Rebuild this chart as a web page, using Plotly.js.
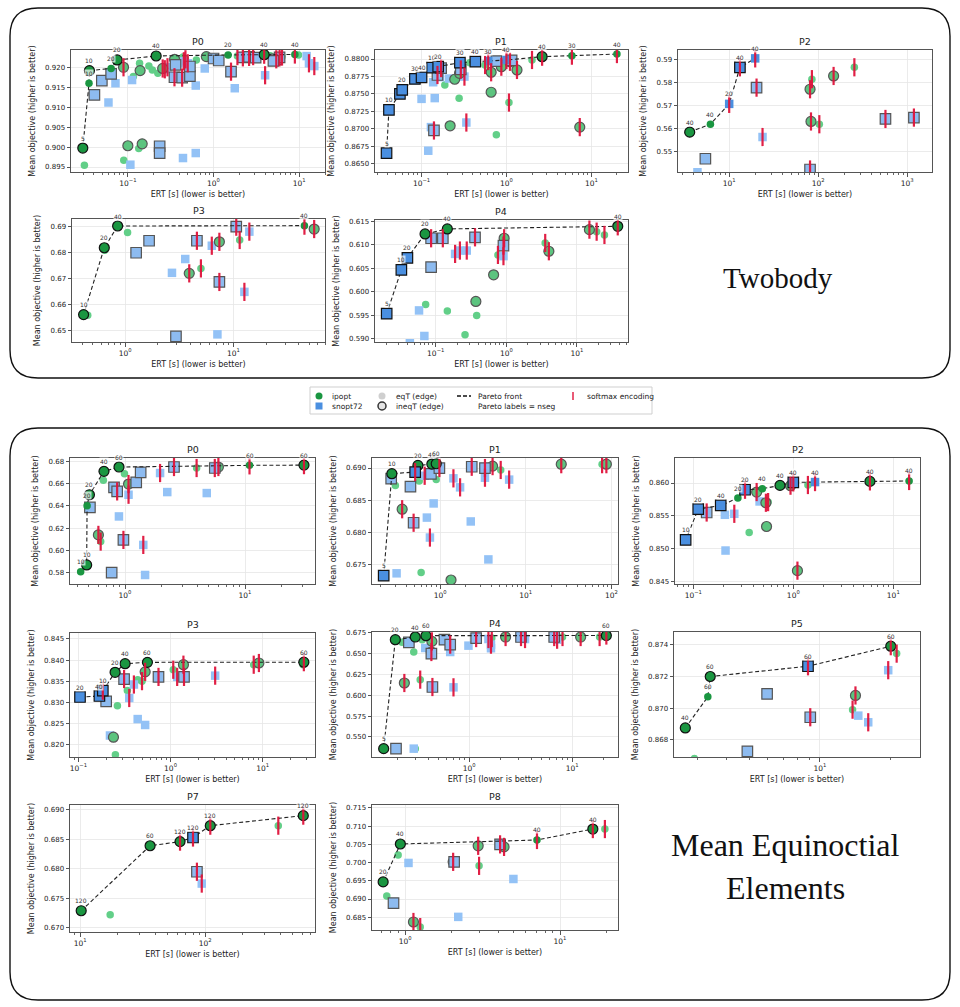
<!DOCTYPE html>
<html><head><meta charset="utf-8">
<script src="https://cdn.plot.ly/plotly-3.0.1.min.js"></script>
<style>html,body{margin:0;padding:0;background:#fff}#chart{width:960px;height:1007px}</style>
</head><body><div id="chart"></div>
<script>
// ---- DATA (first nseg.length points of each panel are the Pareto points) ----
// kind: i=ipopt s=snopt72, e=eqT(edge) q=ineqT(edge), trailing r = softmax encoding
const TB_P0_ert = [0.0298,0.0352,0.0356,0.0638,0.075,0.214,1.48,3.9,8.9, 0.0311,0.0407,0.0497,0.0594,0.0638,0.0717,0.089,0.0896,0.1,0.107,0.112,0.116,0.134,0.137,0.139,0.147,0.176,0.193,0.224,0.235,0.235,0.255,0.27,0.29,0.351,0.35,0.36,0.39,0.43,0.44,0.45,0.47,0.50,0.53,0.53,0.44,0.62,0.62,0.63,0.79,0.824,1.0,1.15,1.6,1.77,1.9,2.2,2.6,3.1,2.9,4.0,4.6,5.4,5.9,6.3,5.0,9.8,12.2,13,15];
const TB_P0_obj = [0.89975,0.9160,0.91917,0.9197,0.92183,0.92283,0.9231,0.92315,0.9232, 0.89542,0.91308,0.91667,0.91117,0.91833,0.9160,0.9200,0.89667,0.90033,0.89558,0.9168,0.9177,0.89967,0.9210,0.91917,0.9008,0.9203,0.9193,0.9185,0.9002,0.8985,0.9197,0.9195,0.9200,0.9220,0.9175,0.9206,0.9210,0.9174,0.9226,0.9215,0.9220,0.9210,0.9178,0.9202,0.89725,0.8985,0.91542,0.9218,0.9197,0.92267,0.9222,0.9217,0.9189,0.91475,0.9228,0.9225,0.9226,0.9224,0.9228,0.9180,0.9229,0.9220,0.9225,0.9227,0.9216,0.9231,0.9228,0.9210,0.9203];
const TB_P0_kind = ['iq','ie','iq','ie','iq','iq','ie','iqr','ier', 'ie','sq','sq','se','sq','se','iqr','ie','iq','se','se','ie','ie','ie','iq','iq','ie','ie','ie','sq','sq','iqr','ser','ser','iq','sqr','sq','se','sqr','ie','ser','ier','ser','sq','sq','se','se','se','ie','se','iq','sq','sq','sqr','se','ier','sqr','sqr','sq','ier','ser','ie','sqr','sqr','ier','sq','ie','se','ser','ser'];
const TB_P0_nseg = ['5','10','10','20','20','40','20','40','40'];

const TB_P1_ert = [0.0387,0.0413,0.0556,0.0592,0.0835,0.1,0.133,0.157,0.283,0.43,0.61,1.0,2.63,5.9,20, 0.12,0.129,0.14,0.1,0.143,0.137,0.154,0.164,0.17,0.188,0.217,0.21,0.277,0.246,0.28,0.29,0.32,0.337,0.37,0.56,0.66,0.66,0.76,0.87,1.1,1.07,1.33,2.0,7.3,0.76,1.15];
const TB_P1_obj = [0.86652,0.87271,0.8750,0.87557,0.87714,0.87738,0.87876,0.8789,0.87948,0.87962,0.87971,0.87986,0.88033,0.88048,0.88071, 0.86686,0.87024,0.86976,0.87429,0.8744,0.87667,0.87771,0.8774,0.8787,0.87629,0.87043,0.8772,0.87438,0.8771,0.87795,0.8785,0.87748,0.8709,0.87945,0.87914,0.8781,0.87524,0.86914,0.8789,0.8796,0.87376,0.87843,0.87986,0.87024,0.8797,0.8798];
const TB_P1_kind = ['sq','sq','sq','sq','sq','sq','sq','sq','sq','sq','ser','ser','iqr','ier','ier', 'se','se','sqr','se','se','se','sqr','se','sqr','ie','iq','se','ie','iq','iq','sqr','ser','ser','ie','ier','iqr','iq','ie','iqr','iqr','ier','iqr','ier','iqr','sq','sq'];
const TB_P1_nseg = ['5','10','','20','30','40','10','20','30','40','30','40','40','30','40'];

const TB_P2_ert = [3.6,6.15,10,13.2,19.6, 4.4,5.4,20.3,23.7,81,85,83,103,81,149,255,570,1190];
const TB_P2_obj = [0.55844,0.56193,0.5708,0.5868,0.5907, 0.5409,0.5468,0.5779,0.5563,0.5772,0.5816,0.5631,0.5619,0.5421,0.5830,0.5868,0.5642,0.5648];
const TB_P2_kind = ['iq','ie','ser','sqr','ser', 'se','sq','sqr','ser','iqr','ier','iqr','ier','sqr','iqr','ier','sqr','sqr'];
const TB_P2_nseg = ['40','40','20','40','40'];

const TB_P3_ert = [0.412,0.64,0.85,45.2, 0.45,0.645,1.05,1.26,1.66,2.7,3.58,2.94,3.9,5.0,4.59,6.3,7.4,7.4,7.1,10.6,11.4,12.6,14,55.6];
const TB_P3_obj = [0.65628,0.68192,0.69026,0.6904, 0.6560,0.6810,0.6878,0.6800,0.6846,0.6723,0.6776,0.6479,0.6721,0.6740,0.6846,0.6827,0.6842,0.6688,0.6487,0.6900,0.6849,0.6650,0.6881,0.6891];
const TB_P3_kind = ['iq','iq','iq','ier', 'ie','ie','ie','sq','sq','se','se','sq','iqr','ier','sqr','ser','iqr','sqr','se','sqr','ier','ser','ser','iqr'];
const TB_P3_nseg = ['10','20','40','40'];

const TB_P4_ert = [0.0202,0.0326,0.0397,0.0706,0.146,37.8, 0.043,0.058,0.069,0.072,0.086,0.086,0.126,0.146,0.188,0.22,0.275,0.26,0.36,0.37,0.38,0.66,0.76,0.91,0.91,0.93,3.55,4.0,15,19,24.5];
const TB_P4_obj = [0.59537,0.60469,0.60723,0.61232,0.61338,0.61394, 0.5891,0.59607,0.59064,0.59734,0.6114,0.60526,0.6114,0.59593,0.60808,0.60879,0.60879,0.59092,0.6116,0.59798,0.59501,0.60363,0.60787,0.6076,0.60985,0.6114,0.6104,0.60864,0.61323,0.6128,0.6121];
const TB_P4_kind = ['sq','sq','sq','iq','iq','iqr', 'se','se','se','ie','sqr','sq','sqr','ie','ser','ser','ser','ie','sqr','iq','ie','iq','ier','ser','sqr','iqr','ier','iqr','iqr','ier','ier'];
const TB_P4_nseg = ['5','10','20','20','40','40'];

const ME_P0_ert = [0.427,0.479,0.483,0.505,0.668,0.891,10.9,31, 0.51,0.66,0.6,0.627,0.774,0.81,0.86,0.99,0.89,0.97,1.07,1.07,1.24,1.35,1.42,1.47,1.96,2.25,2.56,3.95,4.8,5.6,6.0];
const ME_P0_obj = [0.5809,0.5869,0.6400,0.6500,0.6710,0.6749,0.6764,0.6766, 0.6386,0.6629,0.6139,0.6079,0.5800,0.6566,0.6530,0.6689,0.6305,0.6094,0.6596,0.6500,0.6611,0.6701,0.6049,0.5779,0.6695,0.6524,0.6749,0.6740,0.6515,0.6740,0.6749];
const ME_P0_kind = ['ie','iq','ie','iq','iq','iq','ier','iqr', 'sq','ie','iqr','ier','sq','sq','sqr','ie','se','sqr','iqr','ser','sq','sq','ser','se','ser','se','sqr','ier','se','sqr','iqr'];
const ME_P0_nseg = ['10','10','20','20','40','60','60','60'];

const ME_P1_ert = [0.219,0.273,0.511,0.55,0.8,0.9, 0.257,0.268,0.3,0.31,0.36,0.45,0.49,0.57,0.6,0.66,0.7,0.78,0.76,0.84,0.9,0.98,1.34,1.43,1.71,2.28,2.34,3.34,3.34,3.66,4.1,5.1,6.4,26,78,87.5];
const ME_P1_obj = [0.67328,0.68912,0.68938,0.6904,0.69062,0.69067, 0.6884,0.68834,0.6873,0.67364,0.6836,0.6871,0.6815,0.6880,0.67375,0.6888,0.6823,0.6891,0.6792,0.6845,0.6882,0.6900,0.6726,0.6884,0.6870,0.6817,0.6902,0.6900,0.6885,0.6758,0.6903,0.6897,0.6882,0.6906,0.6906,0.6906];
const ME_P1_kind = ['sq','iq','sqr','iq','iq','iq', 'ie','sq','ie','se','iqr','sq','sqr','ie','ie','ser','se','sq','ser','se','ie','sqr','iq','ser','ser','se','sqr','sqr','ser','se','iqr','ier','ser','iqr','ier','iqr'];
const ME_P1_nseg = ['5','10','','20','40','60'];

const ME_P2_ert = [0.0838,0.112,0.188,0.279,0.329,0.49,0.736,1.0,1.65,5.84,14.4, 0.136,0.207,0.21,0.257,0.362,0.43,0.46,0.532,0.56,0.54,0.938,1.1,1.4];
const ME_P2_obj = [0.85135,0.85603,0.85659,0.85771,0.85898,0.85913,0.85964,0.8601,0.86015,0.86025,0.86031, 0.85552,0.85517,0.84973,0.85532,0.85247,0.85863,0.8572,0.8570,0.8571,0.85339,0.8596,0.84667,0.8597];
const ME_P2_kind = ['sq','sq','sq','ie','sqr','ie','iq','sqr','ser','iqr','ier', 'sqr','se','se','ser','ie','iqr','se','iqr','ier','iq','iqr','iqr','ier'];
const ME_P2_nseg = ['10','20','40','20','20','40','40','40','40','40','40'];

const ME_P3_ert = [0.104,0.169,0.184,0.25,0.321,0.561,28, 0.2,0.22,0.24,0.252,0.265,0.313,0.34,0.356,0.40,0.44,0.44,0.49,0.53,0.53,0.74,1.07,1.18,1.38,1.40,3.05,8.0,9.1,27.5];
const ME_P3_obj = [0.83123,0.83147,0.83274,0.83709,0.83914,0.83946,0.8395, 0.8302,0.8221,0.8217,0.81755,0.82918,0.8355,0.8328,0.8310,0.8342,0.8353,0.8260,0.8350,0.8246,0.8372,0.8360,0.8377,0.8360,0.8389,0.8360,0.8363,0.8389,0.8393,0.8389];
const ME_P3_kind = ['sq','sq','sqr','iq','iq','iq','iqr', 'sq','se','iq','ie','ie','sqr','ie','ser','ser','ie','se','ier','se','iqr','sqr','ier','ser','iqr','sqr','ser','ier','iqr','ie'];
const ME_P3_nseg = ['20','40','10','20','40','60','60'];

const ME_P4_ert = [0.148,0.192,0.30,0.381,21.5, 0.195,0.223,0.26,0.235,0.29,0.29,0.30,0.335,0.35,0.375,0.43,0.43,0.44,0.435,0.576,0.655,0.655,0.705,0.985,1.17,1.54,1.66,1.63,1.63,2.26,3.19,3.49,6.7,7.15,8.07,12.1,18.5];
const ME_P4_obj = [0.5361,0.6662,0.6694,0.6710,0.6712, 0.5361,0.6631,0.6631,0.6145,0.6515,0.5361,0.5361,0.6185,0.6662,0.6563,0.6515,0.6495,0.6097,0.6642,0.6662,0.6603,0.6515,0.6093,0.6591,0.6682,0.6670,0.6682,0.6603,0.6560,0.6694,0.6694,0.6670,0.6694,0.6662,0.6694,0.6694,0.6694];
const ME_P4_kind = ['iq','iq','iq','iq','iqr', 'sq','ie','sq','iqr','ie','se','ie','ier','ie','se','iqr','sq','sqr','iqr','sq','sqr','se','ser','se','sqr','ser','ier','ser','se','iqr','sqr','ser','sqr','ser','ier','iqr','ier'];
const ME_P4_nseg = ['5','20','40','60','60'];

const ME_P5_ert = [2.66,3.32,3.4,8.9,20.1, 2.91,4.9,5.95,9.1,13.8,14.2,14.6,16.1,19.6,21.3];
const ME_P5_obj = [0.86874,0.87071,0.8720,0.87265,0.87392, 0.8668,0.86726,0.8709,0.86942,0.8699,0.8708,0.86952,0.8691,0.8724,0.87345];
const ME_P5_kind = ['iq','ie','iq','sqr','iqr', 'ie','sq','sq','sqr','ier','iqr','se','ser','ser','ier'];
const ME_P5_nseg = ['40','60','60','60','60'];

const ME_P7_ert = [10.2,36.3,63,80,110,610, 17.4,86,94,385];
const ME_P7_obj = [0.6729,0.6839,0.6846,0.6853,0.6873,0.6890, 0.6722,0.6795,0.6775,0.6873];
const ME_P7_kind = ['iq','iq','iqr','sqr','iqr','iqr', 'ie','sqr','ser','ier'];
const ME_P7_nseg = ['120','60','120','120','120','120'];

const ME_P8_ert = [0.72,0.93,7.1,16.3, 0.76,0.84,0.9,1.05,1.13,1.25,2.04,2.07,2.2,2.96,3.0,4.1,4.35,5.0,19.5];
const ME_P8_obj = [0.6947,0.7051,0.7062,0.7092, 0.6908,0.6889,0.7021,0.6999,0.6837,0.6823,0.7002,0.7002,0.6851,0.7046,0.6991,0.7050,0.7043,0.6955,0.7092];
const ME_P8_kind = ['iq','iq','ier','iqr', 'ie','sq','ie','se','iqr','ier','iqr','sq','se','iqr','ier','sqr','iqr','se','ier'];
const ME_P8_nseg = ['20','40','40','40'];

// ---- LAYOUT CONFIG ----
const W = 960, H = 1007;
const PANELS = [
 {t:'P0', e:TB_P0_ert, o:TB_P0_obj, k:TB_P0_kind, n:TB_P0_nseg, box:[71,50,325,172], xr:[0.0217,20], yr:[0.89375,0.92433], dy:0.005, fy:'.3f', xt:true},
 {t:'P1', e:TB_P1_ert, o:TB_P1_obj, k:TB_P1_kind, n:TB_P1_nseg, box:[375,50,628,172], xr:[0.0283,27], yr:[0.86381,0.88129], dy:0.0025, fy:'.4f', xt:true},
 {t:'P2', e:TB_P2_ert, o:TB_P2_obj, k:TB_P2_kind, n:TB_P2_nseg, box:[678,50,932,172], xr:[2.66,1900], yr:[0.5410,0.59436], dy:0.01, fy:'.2f', xt:true},
 {t:'P3', e:TB_P3_ert, o:TB_P3_obj, k:TB_P3_kind, n:TB_P3_nseg, box:[72,219,325,342], xr:[0.322,70], yr:[0.64577,0.69295], dy:0.01, fy:'.2f', xt:true},
 {t:'P4', e:TB_P4_ert, o:TB_P4_obj, k:TB_P4_kind, n:TB_P4_nseg, box:[375,220,628,342], xr:[0.0138,52.8], yr:[0.58936,0.61528], dy:0.005, fy:'.3f', xt:true},
 {t:'P0', e:ME_P0_ert, o:ME_P0_obj, k:ME_P0_kind, n:ME_P0_nseg, box:[70,458,315,584], xr:[0.348,38.3], yr:[0.5698,0.683], dy:0.02, fy:'.2f', xt:false},
 {t:'P1', e:ME_P1_ert, o:ME_P1_obj, k:ME_P1_kind, n:ME_P1_nseg, box:[372,458,618,584], xr:[0.16,119.6], yr:[0.67198,0.69156], dy:0.005, fy:'.3f', xt:false},
 {t:'P2', e:ME_P2_ert, o:ME_P2_obj, k:ME_P2_kind, n:ME_P2_nseg, box:[675,458,920,584], xr:[0.0656,18.5], yr:[0.84464,0.86381], dy:0.005, fy:'.3f', xt:false},
 {t:'P3', e:ME_P3_ert, o:ME_P3_obj, k:ME_P3_kind, n:ME_P3_nseg, box:[70,633,315,757], xr:[0.081,37], yr:[0.817,0.84642], dy:0.005, fy:'.3f', xt:true},
 {t:'P4', e:ME_P4_ert, o:ME_P4_obj, k:ME_P4_kind, n:ME_P4_nseg, box:[372,632,618,757], xr:[0.114,27.9], yr:[0.5261,0.6754], dy:0.025, fy:'.3f', xt:true},
 {t:'P5', e:ME_P5_ert, o:ME_P5_obj, k:ME_P5_kind, n:ME_P5_nseg, box:[674,632,920,757], xr:[2.38,26.8], yr:[0.8669,0.87482], dy:0.002, fy:'.3f', xt:true},
 {t:'P7', e:ME_P7_ert, o:ME_P7_obj, k:ME_P7_kind, n:ME_P7_nseg, box:[70,805,315,932], xr:[8.3,757], yr:[0.6693,0.6908], dy:0.005, fy:'.3f', xt:true},
 {t:'P8', e:ME_P8_ert, o:ME_P8_obj, k:ME_P8_kind, n:ME_P8_nseg, box:[372,805,618,930], xr:[0.61,23.7], yr:[0.6815,0.7158], dy:0.005, fy:'.3f', xt:true}
];

const STYLE = {
  ie:{sym:'circle', size:7.5, dark:'#1a9641', light:'#62cf88', line:0},
  se:{sym:'square', size:8.5, dark:'#4a8fe0', light:'#93c2f6', line:0},
  iq:{sym:'circle', size:10, dark:'#1a9641', light:'#5cc47f', line:1.2},
  sq:{sym:'square', size:10.5, dark:'#4a8fe0', light:'#8dbbf0', line:1.2}
};
const RED = '#e0143c';
const FONT = 'DejaVu Sans, Liberation Sans, sans-serif';
const SERIF = 'Liberation Serif, DejaVu Serif, serif';
const px = v => v / W, py = v => 1 - v / H;

const traces = [], annotations = [], shapes = [];
const layout = {
  width: W, height: H, margin:{l:0,r:0,t:0,b:0}, paper_bgcolor:'#fff', plot_bgcolor:'#fff',
  showlegend:false, font:{family:FONT, size:7, color:'#222'}, annotations, shapes
};
const sup = e => '10<sup>' + (e < 0 ? '\u2212' : '') + Math.abs(e) + '</sup>';

PANELS.forEach((p, i) => {
  const s = i === 0 ? '' : String(i + 1);
  const xa = 'x' + s, ya = 'y' + s;
  const nf = p.n.length;
  const idx = p.e.map((_, j) => j);
  const isF = j => j < nf;
  const addGroup = (k, front) => {
    const st = STYLE[k];
    const sel = idx.filter(j => p.k[j].slice(0, 2) === k && isF(j) === front);
    if (!sel.length) return;
    traces.push({type:'scatter', mode:'markers', xaxis:xa, yaxis:ya, hoverinfo:'skip',
      x: sel.map(j => p.e[j]), y: sel.map(j => p.o[j]),
      marker:{symbol:st.sym, size:st.size, color: front ? st.dark : st.light,
        line:{width:st.line, color: front ? '#111' : '#555'}}});
  };
  ['ie','se','iq','sq'].forEach(k => addGroup(k, false));
  const fr = idx.filter(isF).sort((a, b) => p.e[a] - p.e[b]);
  traces.push({type:'scatter', mode:'lines', xaxis:xa, yaxis:ya, hoverinfo:'skip',
    x: fr.map(j => p.e[j]), y: fr.map(j => p.o[j]),
    line:{color:'#222', width:1.1, dash:'4px,2.5px'}});
  ['ie','se','iq','sq'].forEach(k => addGroup(k, true));
  const red = idx.filter(j => p.k[j].endsWith('r'));
  traces.push({type:'scatter', mode:'markers', xaxis:xa, yaxis:ya, hoverinfo:'skip',
    x: red.map(j => p.e[j]), y: red.map(j => p.o[j]),
    marker:{symbol:'line-ns', size:13, line:{width:2.2, color:RED}, opacity:0.95}});
  fr.forEach(j => {
    if (!p.n[j]) return;
    annotations.push({xref:xa, yref:ya, x:Math.log10(p.e[j]), y:p.o[j], text:p.n[j], showarrow:false,
      xanchor:'center', yshift:10, font:{size:6, color:'#333'}, bgcolor:'rgba(255,255,255,0.7)', borderpad:0});
  });

  const [l, t, r, b] = p.box;
  const lo = Math.log10(p.xr[0]), hi = Math.log10(p.xr[1]);
  const majors = [], minors = [];
  for (let e = Math.floor(lo); e <= Math.ceil(hi); e++) {
    if (e >= lo && e <= hi) majors.push(e);
    for (let m = 2; m <= 9; m++) { const v = m * Math.pow(10, e); const lv = Math.log10(v); if (lv >= lo && lv <= hi) minors.push(v); }
  }
  const xax = {
    domain:[px(l), px(r)], anchor:ya, type:'log', range:[lo, hi],
    tickmode:'array', tickvals: majors.map(e => Math.pow(10, e)), ticktext: majors.map(sup),
    showgrid:true, gridcolor:'#e6e6e6', gridwidth:0.8, zeroline:false,
    showline:true, mirror:true, linecolor:'#555', linewidth:1,
    ticks:'outside', ticklen:3.5, tickcolor:'#555', tickfont:{size:7.5, color:'#222'},
    minor:{tickmode:'array', tickvals:minors, ticks:'outside', ticklen:2, tickcolor:'#666', showgrid:false}
  };
  if (p.xt) xax.title = {text:'ERT [s] (lower is better)', font:{size:8, color:'#222'}, standoff:4};
  layout['xaxis' + s] = xax;
  layout['yaxis' + s] = {
    domain:[py(b), py(t)], anchor:xa, range:p.yr, tick0:0, dtick:p.dy, tickformat:p.fy,
    showgrid:true, gridcolor:'#e6e6e6', gridwidth:0.8, zeroline:false,
    showline:true, mirror:true, linecolor:'#555', linewidth:1,
    ticks:'outside', ticklen:3.5, tickcolor:'#555', tickfont:{size:7, color:'#222'},
    title:{text:'Mean objective (higher is better)', font:{size:8, color:'#222'}, standoff:8}
  };
  annotations.push({xref:'paper', yref:'paper', x:px((l + r) / 2), y:py(t), xanchor:'center', yanchor:'bottom', yshift:1,
    text:p.t, showarrow:false, font:{size:9.5, color:'#222'}});
});

// ---- group frames ----
function rrect(x0, y0, x1, y1, r) {
  const X = v => px(v).toFixed(5), Y = v => py(v).toFixed(5);
  return `M${X(x0+r)},${Y(y0)} L${X(x1-r)},${Y(y0)} Q${X(x1)},${Y(y0)} ${X(x1)},${Y(y0+r)} L${X(x1)},${Y(y1-r)} Q${X(x1)},${Y(y1)} ${X(x1-r)},${Y(y1)} L${X(x0+r)},${Y(y1)} Q${X(x0)},${Y(y1)} ${X(x0)},${Y(y1-r)} L${X(x0)},${Y(y0+r)} Q${X(x0)},${Y(y0)} ${X(x0+r)},${Y(y0)} Z`;
}
shapes.push({type:'path', xref:'paper', yref:'paper', path:rrect(10, 8, 950, 378, 28), line:{color:'#111', width:1.4}, layer:'below'});
shapes.push({type:'path', xref:'paper', yref:'paper', path:rrect(10, 428, 950, 1000, 28), line:{color:'#111', width:1.4}, layer:'below'});

// group titles
annotations.push({xref:'paper', yref:'paper', x:px(778), y:py(278), xanchor:'center', yanchor:'middle', text:'Twobody', showarrow:false,
  font:{family:SERIF, size:29, color:'#111'}});
annotations.push({xref:'paper', yref:'paper', x:px(785), y:py(845), xanchor:'center', yanchor:'middle', text:'Mean Equinoctial', showarrow:false,
  font:{family:SERIF, size:32, color:'#111'}});
annotations.push({xref:'paper', yref:'paper', x:px(785), y:py(888), xanchor:'center', yanchor:'middle', text:'Elements', showarrow:false,
  font:{family:SERIF, size:32, color:'#111'}});

// ---- legend ----
const rectP = (x0, y0, x1, y1) => ({x0:px(x0), x1:px(x1), y0:py(y1), y1:py(y0), xref:'paper', yref:'paper'});
shapes.push(Object.assign({type:'rect', line:{color:'#cfcfcf', width:1}, fillcolor:'#fff'}, rectP(310, 387, 652, 414)));
shapes.push(Object.assign({type:'circle', line:{width:0}, fillcolor:'#1a9641'}, rectP(315.5, 392.5, 322.5, 399.5)));
shapes.push(Object.assign({type:'rect', line:{width:0}, fillcolor:'#4a8fe0'}, rectP(315.5, 402.5, 322.5, 409.5)));
shapes.push(Object.assign({type:'circle', line:{width:0}, fillcolor:'#cfcfcf'}, rectP(378.5, 392.5, 385.5, 399.5)));
shapes.push(Object.assign({type:'circle', line:{width:1.5, color:'#333'}, fillcolor:'#e4e4e4'}, rectP(378, 402, 386, 410)));
shapes.push({type:'line', xref:'paper', yref:'paper', x0:px(457), x1:px(471), y0:py(396), y1:py(396), line:{color:'#111', width:1.3, dash:'4px,2px'}});
shapes.push({type:'line', xref:'paper', yref:'paper', x0:px(573), x1:px(573), y0:py(392), y1:py(400), line:{color:RED, width:1.4}});
[['ipopt',330,396],['snopt72',330,406],['eqT (edge)',394,396],['ineqT (edge)',394,406],
 ['Pareto front',476,396],['Pareto labels = nseg',476,406],['softmax encoding',585,396]].forEach(([t,x,y]) => {
  annotations.push({xref:'paper', yref:'paper', x:px(x), y:py(y), xanchor:'left', yanchor:'middle', text:t,
    showarrow:false, font:{size:7.5, color:'#222'}});
});

Plotly.newPlot('chart', traces, layout, {displayModeBar:false, staticPlot:true});
</script></body></html>
